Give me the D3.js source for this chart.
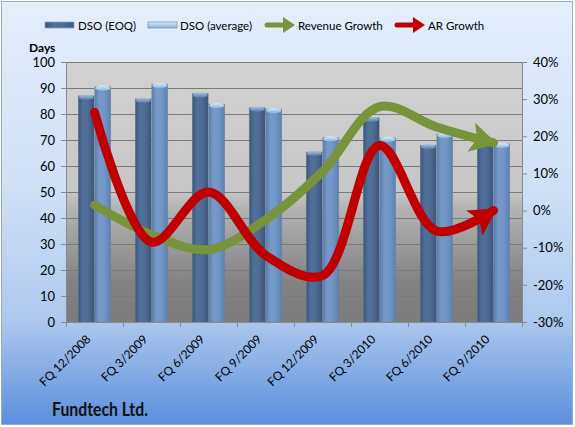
<!DOCTYPE html>
<html><head><meta charset="utf-8">
<script src="https://cdn.jsdelivr.net/npm/d3@7"></script>
<style>body{margin:0;}svg{display:block;font-family:Lato,"Open Sans",sans-serif;}</style>
</head><body><svg id="c" width="575" height="427"></svg>
<script>
const categories = ["FQ 12/2008","FQ 3/2009","FQ 6/2009","FQ 9/2009","FQ 12/2009","FQ 3/2010","FQ 6/2010","FQ 9/2010"];
const dsoEOQ = [87, 85.8, 87.8, 82.4, 65.4, 78.5, 68, 70];
const dsoAvg = [90.5, 91.5, 83.8, 81.9, 71, 70.8, 72.3, 68.5];
const revenueGrowth = [1.5, -6.5, -10.5, -2.5, 10.5, 28, 22.5, 18.2];
const arGrowth = [26.5, -8.5, 5, -12, -17.5, 17.5, -5.5, 0];
const leftTicks = [0,10,20,30,40,50,60,70,80,90,100];
const rightTicks = [-30,-20,-10,0,10,20,30,40];
const seriesNames = ["DSO (EOQ)","DSO (average)","Revenue Growth","AR Growth"];

const svg = d3.select("#c");
const W = 575, H = 427;
const m = {l:66, r:522, t:62, b:322};
const defs = svg.append("defs");

function lg(id, x2, y2, stops){
  const g = defs.append("linearGradient").attr("id", id).attr("x1",0).attr("y1",0).attr("x2",x2).attr("y2",y2);
  stops.forEach(s=>g.append("stop").attr("offset",s[0]).attr("stop-color",s[1]));
}
lg("bgG",0,1,[[0,"#e4eefc"],[0.45,"#cfdff5"],[0.75,"#adc9ef"],[1,"#5b8fdb"]]);
lg("plotG",0,1,[[0,"#d2d2d2"],[0.5,"#c6c6c6"],[0.56,"#b4b4b4"],[0.85,"#828282"],[1,"#7c7c7c"]]);
lg("eoqG",1,0,[[0,"#3a5578"],[0.3,"#50709b"],[0.6,"#4d6d97"],[1,"#3b5579"]]);
lg("avgG",1,0,[[0,"#5a7eae"],[0.3,"#7599c8"],[0.6,"#7296c5"],[1,"#5b7fae"]]);
lg("eoqCap",0,1,[[0,"#a8c4e4"],[1,"#5878a2"]]);
lg("avgCap",0,1,[[0,"#d6ecfa"],[1,"#8cb0dc"]]);

svg.append("rect").attr("x",1.5).attr("y",1.5).attr("width",W-4).attr("height",H-4)
  .attr("fill","url(#bgG)").attr("stroke","#9aabc3");

const y = d3.scaleLinear().domain([0,100]).range([m.b,m.t]);
const y2 = d3.scaleLinear().domain([-30,40]).range([m.b,m.t]);
const x0 = d3.scaleBand().domain(categories).range([m.l,m.r]).paddingInner(0.42).paddingOuter(0.21);
const x1 = d3.scaleBand().domain([0,1]).range([0,x0.bandwidth()]);
const cx = c => x0(c) + x0.bandwidth()/2;

svg.append("rect").attr("x",m.l).attr("y",m.t).attr("width",m.r-m.l).attr("height",m.b-m.t).attr("fill","url(#plotG)");

// gridlines
svg.append("g").selectAll("line").data(leftTicks.slice(1)).join("line")
  .attr("x1",m.l).attr("x2",m.r).attr("y1",d=>Math.round(y(d))+0.5).attr("y2",d=>Math.round(y(d))+0.5)
  .attr("stroke","#7a7a7a").attr("stroke-width",1);

// bars
const series = [dsoEOQ, dsoAvg];
const fills = ["url(#eoqG)","url(#avgG)"];
const caps = ["url(#eoqCap)","url(#avgCap)"];
series.forEach((vals,si)=>{
  const g = svg.append("g");
  g.selectAll("rect").data(vals).join("rect")
    .attr("x",(d,i)=>x0(categories[i])+x1(si)+0.3)
    .attr("width",x1.bandwidth()-0.6)
    .attr("y",d=>y(d)).attr("height",d=>y(0)-y(d))
    .attr("fill",fills[si]).attr("stroke","#6f8198").attr("stroke-width",0.6).attr("stroke-opacity",0.6);
  g.selectAll("ellipse").data(vals).join("ellipse")
    .attr("cx",(d,i)=>x0(categories[i])+x1(si)+x1.bandwidth()/2)
    .attr("cy",d=>y(d)+1.5).attr("rx",x1.bandwidth()/2-0.8).attr("ry",2.6)
    .attr("fill",caps[si]);
});

// axes
const la = svg.append("g").attr("transform",`translate(${m.l},0)`)
  .call(d3.axisLeft(y).tickValues(leftTicks).tickSize(5).tickPadding(6));
const ra = svg.append("g").attr("transform",`translate(${m.r},0)`)
  .call(d3.axisRight(y2).tickValues(rightTicks).tickSize(5).tickPadding(6).tickFormat(d=>d+"%"));
[la,ra].forEach(a=>{
  a.select(".domain").attr("stroke","#8a8a8a");
  a.selectAll(".tick line").attr("stroke","#8a8a8a");
  a.selectAll("text").attr("font-size",13).attr("fill","#000").attr("font-family","Lato, sans-serif");
});
const xa = svg.append("g").attr("transform",`translate(0,${m.b})`)
  .call(d3.axisBottom(x0).tickSize(0).tickFormat(""));
xa.select(".domain").attr("stroke","#8a8a8a");
// category boundary ticks
const bounds = d3.range(categories.length+1).map(i=>m.l + i*(m.r-m.l)/categories.length);
svg.append("g").selectAll("line").data(bounds).join("line")
  .attr("x1",d=>Math.round(d)+0.5).attr("x2",d=>Math.round(d)+0.5).attr("y1",m.b).attr("y2",m.b+5)
  .attr("stroke","#8a8a8a");
svg.append("g").selectAll("text").data(categories).join("text")
  .attr("transform",d=>`translate(${cx(d)-6},${m.b+15}) rotate(-45)`)
  .attr("text-anchor","end").attr("dy","0.35em").attr("font-size",12).text(d=>d);

// lines
const line = d3.line().x((d,i)=>cx(categories[i])).y(d=>y2(d)).curve(d3.curveCatmullRom.alpha(0.5));
function arrowMarker(id,color){
  defs.append("marker").attr("id",id).attr("markerUnits","userSpaceOnUse")
    .attr("viewBox","0 -15 27 30").attr("refX",23).attr("refY",0)
    .attr("markerWidth",27).attr("markerHeight",30).attr("orient","auto")
    .append("path").attr("d","M0,-15L27,0L0,15L6,0Z").attr("fill",color);
}
arrowMarker("gArr","#77933c");
arrowMarker("rArr","#c00000");
svg.append("path").datum(revenueGrowth).attr("d",line).attr("fill","none")
  .attr("stroke","#77933c").attr("stroke-width",9).attr("stroke-linecap","round").attr("marker-end","url(#gArr)");
svg.append("path").datum(arGrowth).attr("d",line).attr("fill","none")
  .attr("stroke","#c00000").attr("stroke-width",9).attr("stroke-linecap","round").attr("marker-end","url(#rArr)");

// legend
const lgd = svg.append("g").attr("font-size",11.5);
const lx = [45,148,265,395];
lgd.append("rect").attr("x",lx[0]).attr("y",22).attr("width",29).attr("height",6).attr("fill","url(#eoqG)").attr("stroke","#8aa0c0").attr("stroke-width",0.8);
lgd.append("rect").attr("x",lx[1]).attr("y",22).attr("width",29).attr("height",6).attr("fill","url(#avgCap)").attr("stroke","#7a94b8").attr("stroke-width",0.8);
[[lx[2],"#77933c"],[lx[3],"#c00000"]].forEach(([x,c])=>{
  lgd.append("line").attr("x1",x+2).attr("x2",x+20).attr("y1",25).attr("y2",25).attr("stroke",c).attr("stroke-width",5).attr("stroke-linecap","round");
  lgd.append("path").attr("d",`M${x+18},17L${x+30},25L${x+18},33Z`).attr("fill",c);
});
const tx = [78,180,298,428];
seriesNames.forEach((s,i)=>lgd.append("text").attr("x",tx[i]).attr("y",30).attr("fill","#000").text(s));

svg.append("text").attr("x",29).attr("y",52).attr("font-size",12).attr("font-weight","bold").text("Days");
svg.append("text").attr("x",52).attr("y",416).attr("font-size",18).attr("font-weight","bold").attr("fill","#111")
  .attr("textLength",96).attr("lengthAdjust","spacingAndGlyphs").text("Fundtech Ltd.");
</script></body></html>
